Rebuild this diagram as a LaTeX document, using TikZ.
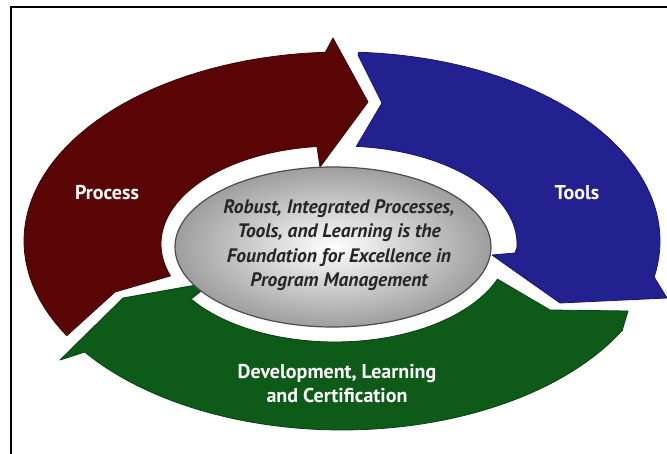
\documentclass[tikz,border=0pt]{standalone}
\usepackage{fontspec}
\setmainfont{PT Sans}
\begin{document}
\begin{tikzpicture}[x=1pt,y=-1pt,
  seg/.style={line width=0.8pt, line join=round},
  lbl/.style={text=white, font=\fontsize{20}{24}\selectfont\bfseries, align=center, inner sep=0pt},
  ctext/.style={text=black!85, font=\fontsize{19.5}{24.5}\selectfont\bfseries\itshape, align=center, inner sep=0pt}]
\definecolor{procred}{HTML}{5A0505}
\definecolor{toolblue}{HTML}{23208F}
\definecolor{devgreen}{HTML}{0E5A18}
\useasboundingbox (0,0) rectangle (667,454);
\fill[white] (0,0) rectangle (667,454);
% frame (top and left)
\draw[line width=2pt] (11,454) -- (11,7) -- (667,7);
% red arrow: Process
\path[seg, fill=procred, draw=procred!70!black]
  (67,335.5)
  -- plot[domain=150:267, samples=50, variable=\t] ({342+318*cos(\t)},{241+189*sin(\t)})
  -- (333,38) -- (368,102) -- (320,167) -- (317,146.5)
  -- plot[domain=264:161, samples=50, variable=\t] ({335+174*cos(\t)},{244+98*sin(\t)})
  -- (115,292) -- cycle;
% blue arrow: Tools
\path[seg, fill=toolblue, draw=toolblue!70!black]
  (358,55)
  -- plot[domain=273:371, samples=50, variable=\t] ({342+318*cos(\t)},{241+189*sin(\t)})
  -- (667,298) -- (560,303) -- (492,255) -- (515,253)
  -- plot[domain=362:275, samples=50, variable=\t] ({341+176*cos(\t)},{244+98*sin(\t)})
  -- (382,103) -- cycle;
% green arrow: Development
\path[seg, fill=devgreen, draw=devgreen!70!black]
  (628,311) -- (622,331)
  -- plot[domain=28:144, samples=60, variable=\t] ({342+318*cos(\t)},{241+189*sin(\t)})
  -- (60,360) -- (123,298) -- (213,282) -- (191,299)
  -- plot[domain=146:21, samples=60, variable=\t] ({335+174*cos(\t)},{244+98*sin(\t)})
  -- (550,310) -- cycle;
% central ellipse
\shade[inner color=white, outer color=black!38] (333,247) ellipse[x radius=158, y radius=80];
\draw[black!70, line width=1.2pt] (333,247) ellipse[x radius=158, y radius=80];
% texts
\node[lbl] (process) at (107,193) {Process};
\node[lbl] (tools) at (577,193) {Tools};
\node[lbl] (dev) at (337,384) {Development, Learning\\and Certification};
\node[ctext] (centre) at (339,245) {Robust, Integrated Processes,\\Tools, and Learning is the\\Foundation for Excellence in\\Program Management};
\end{tikzpicture}
\end{document}
